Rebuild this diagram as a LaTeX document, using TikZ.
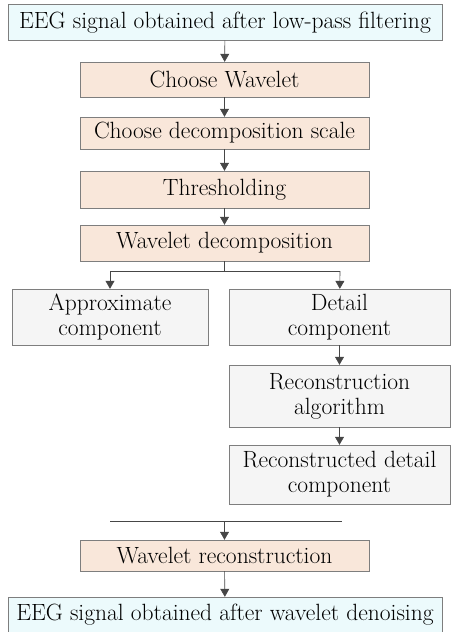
\documentclass[tikz,border=0pt]{standalone}
\usetikzlibrary{arrows.meta}
\definecolor{sigcyan}{RGB}{236,250,252}
\definecolor{steppeach}{RGB}{249,231,218}
\definecolor{compgray}{RGB}{245,245,245}
\definecolor{linegray}{RGB}{70,70,70}

\begin{document}
\begin{tikzpicture}[
  x=1pt, y=-1pt,
  sigbox/.style={rectangle, draw=linegray!70, fill=sigcyan, minimum width=434pt, minimum height=36pt, inner sep=0pt, font=\fontsize{23.5}{26}\selectfont},
  stepbox/.style={rectangle, draw=linegray!70, fill=steppeach, minimum width=289pt, inner sep=0pt, font=\fontsize{23.5}{26}\selectfont},
  compbox/.style={rectangle, draw=linegray!70, fill=compgray, align=center, inner sep=0pt, font=\fontsize{23.5}{25}\selectfont},
  arrow/.style={->, >={Triangle[length=8pt,width=9pt]}, semithick, color=linegray},
  link/.style={semithick, color=linegray}
]
\useasboundingbox (0,0) rectangle (450,632);

% Top
\node[sigbox] (input) at (225,22.5) {EEG signal obtained after low-pass filtering};

% Steps
\node[stepbox, minimum height=35pt] (wavelet) at (224.5,79.5) {Choose Wavelet};
\node[stepbox, minimum height=32pt] (scale) at (224.5,133) {Choose decomposition scale};
\node[stepbox, minimum height=37pt] (threshold) at (224.5,189.5) {Thresholding};
\node[stepbox, minimum height=36pt] (decomp) at (224.5,243) {Wavelet decomposition};

% Components
\node[compbox, minimum width=196pt, minimum height=56pt] (approx) at (110,317) {Approximate\\component};
\node[compbox, minimum width=221pt, minimum height=56pt] (detail) at (339.5,317) {Detail\\component};
\node[compbox, minimum width=221pt, minimum height=62pt] (recalg) at (339.5,396) {Reconstruction\\algorithm};
\node[compbox, minimum width=221pt, minimum height=59pt] (recdetail) at (339.5,474.5) {Reconstructed detail\\component};

% Bottom
\node[stepbox, minimum height=31pt] (recon) at (224.5,555.5) {Wavelet reconstruction};
\node[sigbox] (output) at (225,615) {EEG signal obtained after wavelet denoising};

% Split and merge points
\coordinate (split) at (224.5,271);
\coordinate (splitL) at (110,271);
\coordinate (splitR) at (340,271);
\coordinate (mergeL) at (110,521);
\coordinate (mergeR) at (342,521);
\coordinate (merge) at (224.5,521);

% Arrows
\draw[arrow] (input) -- (wavelet);
\draw[arrow] (wavelet) -- (scale);
\draw[arrow] (scale) -- (threshold);
\draw[arrow] (threshold) -- (decomp);
\draw[link] (decomp) -- (split);
\draw[link] (splitL) -- (splitR);
\draw[arrow] (splitL) -- (approx);
\draw[arrow] (splitR) -- (detail);
\draw[arrow] (detail) -- (recalg);
\draw[arrow] (recalg) -- (recdetail);
\draw[link] (mergeL) -- (mergeR);
\draw[arrow] (merge) -- (recon);
\draw[arrow] (recon) -- (output);

\end{tikzpicture}
\end{document}
